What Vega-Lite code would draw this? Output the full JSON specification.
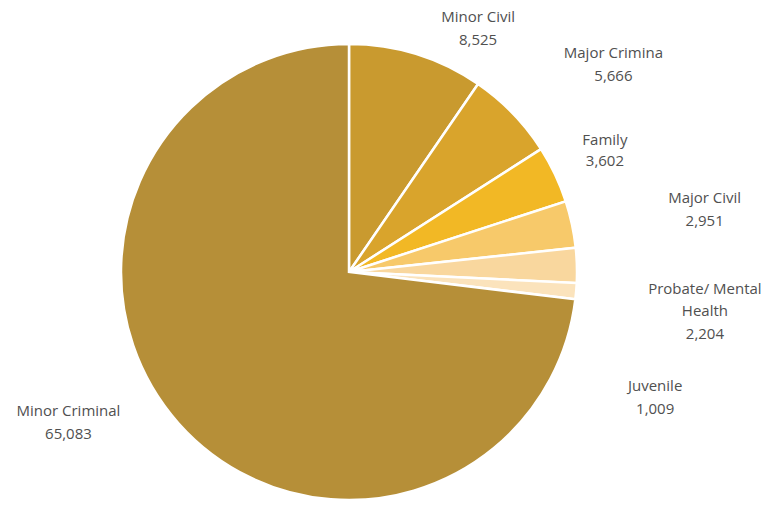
{
  "$schema": "https://vega.github.io/schema/vega-lite/v6.json",
  "width": 698,
  "height": 468,
  "autosize": {"type": "none"},
  "padding": {"left": 0, "top": 38, "right": 80, "bottom": 0},
  "background": "white",
  "config": {"view": {"stroke": null}, "text": {"lineBreak": "\n"}},
  "data": {
    "values": [
      {"category": "Minor Civil", "label": "Minor Civil\n8,525", "value": 8525, "order": 1},
      {"category": "Major Criminal", "label": "Major Crimina\n5,666", "value": 5666, "order": 2},
      {"category": "Family", "label": "Family\n3,602", "value": 3602, "order": 3},
      {"category": "Major Civil", "label": "Major Civil\n2,951", "value": 2951, "order": 4},
      {"category": "Probate/ Mental Health", "label": "Probate/ Mental\nHealth\n2,204", "value": 2204, "order": 5},
      {"category": "Juvenile", "label": "Juvenile\n1,009", "value": 1009, "order": 6},
      {"category": "Minor Criminal", "label": "Minor Criminal\n65,083", "value": 65083, "order": 7}
    ]
  },
  "encoding": {
    "theta": {"field": "value", "type": "quantitative", "stack": true},
    "order": {"field": "order", "type": "quantitative"}
  },
  "layer": [
    {
      "mark": {"type": "arc", "outerRadius": 228, "stroke": "white", "strokeWidth": 2.5},
      "encoding": {
        "color": {
          "field": "category",
          "type": "nominal",
          "legend": null,
          "scale": {
            "domain": ["Minor Civil", "Major Criminal", "Family", "Major Civil", "Probate/ Mental Health", "Juvenile", "Minor Criminal"],
            "range": ["#C99A2F", "#D9A42C", "#F2B825", "#F7C96A", "#F9D79E", "#FBE3BC", "#B68F38"]
          }
        }
      }
    },
    {
      "mark": {"type": "text", "radius": 240, "dx": 58, "dy": -26, "font": "Open Sans", "fontSize": 15, "lineHeight": 23, "color": "#505050", "align": "center", "baseline": "middle"},
      "encoding": {"text": {"condition": {"test": "datum.order == 1", "field": "label"}, "value": ""}}
    },
    {
      "mark": {"type": "text", "radius": 240, "dx": 92, "dy": -52, "font": "Open Sans", "fontSize": 15, "lineHeight": 23, "color": "#505050", "align": "center", "baseline": "middle"},
      "encoding": {"text": {"condition": {"test": "datum.order == 2", "field": "label"}, "value": ""}}
    },
    {
      "mark": {"type": "text", "radius": 240, "dx": 39, "dy": -29, "font": "Open Sans", "fontSize": 15, "lineHeight": 21, "color": "#505050", "align": "center", "baseline": "middle"},
      "encoding": {"text": {"condition": {"test": "datum.order == 3", "field": "label"}, "value": ""}}
    },
    {
      "mark": {"type": "text", "radius": 240, "dx": 121, "dy": -24, "font": "Open Sans", "fontSize": 15, "lineHeight": 23, "color": "#505050", "align": "center", "baseline": "middle"},
      "encoding": {"text": {"condition": {"test": "datum.order == 4", "field": "label"}, "value": ""}}
    },
    {
      "mark": {"type": "text", "radius": 240, "dx": 116, "dy": 24, "font": "Open Sans", "fontSize": 15, "lineHeight": 22.5, "color": "#505050", "align": "center", "baseline": "middle"},
      "encoding": {"text": {"condition": {"test": "datum.order == 5", "field": "label"}, "value": ""}}
    },
    {
      "mark": {"type": "text", "radius": 240, "dx": 67, "dy": 94, "font": "Open Sans", "fontSize": 15, "lineHeight": 23, "color": "#505050", "align": "center", "baseline": "middle"},
      "encoding": {"text": {"condition": {"test": "datum.order == 6", "field": "label"}, "value": ""}}
    },
    {
      "mark": {"type": "text", "radius": 240, "dx": -101, "dy": -20, "font": "Open Sans", "fontSize": 15, "lineHeight": 23, "color": "#505050", "align": "center", "baseline": "middle"},
      "encoding": {"text": {"condition": {"test": "datum.order == 7", "field": "label"}, "value": ""}}
    }
  ]
}
